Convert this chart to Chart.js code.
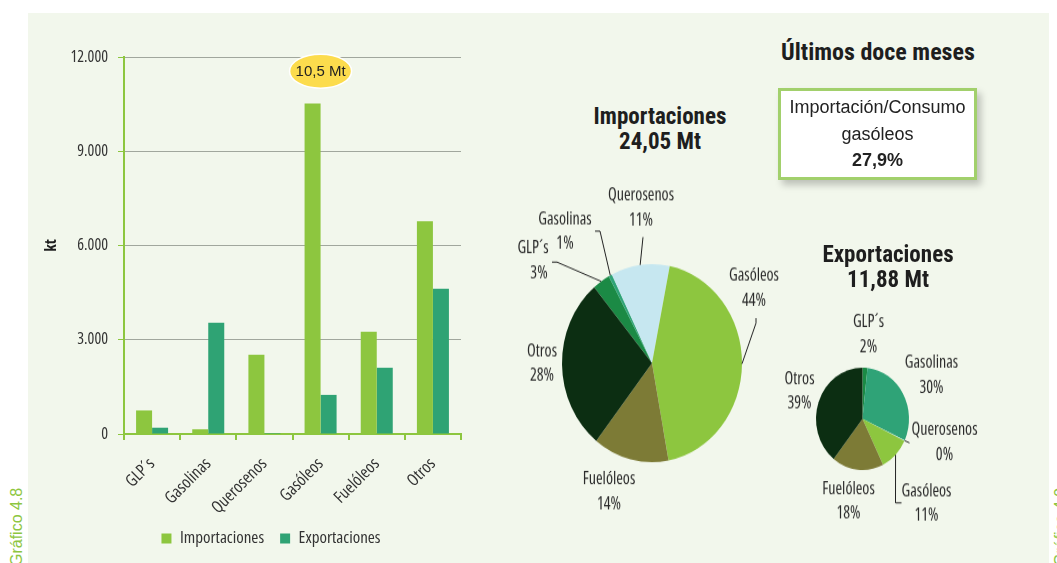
<!DOCTYPE html>
<html>
<head>
<meta charset="utf-8">
<script src="https://cdn.jsdelivr.net/npm/chart.js@4.4.1/dist/chart.umd.min.js"></script>
<style>
  body { margin: 0; width: 1057px; height: 563px; background: #fff; position: relative; overflow: hidden; font-family: 'Liberation Sans', Arial, sans-serif; color: #222; }
  #panel { position: absolute; left: 28px; top: 13px; width: 1021px; height: 550px; background: #f2f7ec; }
  canvas { position: absolute; }
  #bars { left: 28px; top: 13px; }
  #pieImp { left: 495px; top: 175px; transform: scaleY(1.1); transform-origin: 0 0; }
  #pieExp { left: 770px; top: 305px; transform: scaleY(1.1); transform-origin: 0 0; }
  .ttl { position: absolute; text-align: center; font-family: Roboto, sans-serif; font-stretch: condensed; font-weight: bold; font-size: 23px; line-height: 25px; color: #1e1e1e; }
  #box { position: absolute; left: 778px; top: 88px; width: 193px; height: 83px; border: 3px solid #a2d06c; background: #fff;
         box-shadow: 4px 5px 7px rgba(0,0,0,0.22); text-align: center; font-size: 18px; line-height: 26.7px; padding-top: 3px; color: #222; }
  .side { position: absolute; color: #8dc63f; font-size: 16px; transform: rotate(-90deg); transform-origin: 0 0; white-space: nowrap; }
</style>
</head>
<body>
<div id="panel"></div>
<div class="side" style="left:8px; top:566px;">Gráfico 4.8</div>
<div class="side" style="left:1052px; top:566px;">Gráfico 4.9</div>
<canvas id="bars" width="486" height="550"></canvas>
<canvas id="pieImp" width="300" height="315"></canvas>
<canvas id="pieExp" width="280" height="200"></canvas>
<div class="ttl" style="left:758px; top:39px; width:240px; font-size:24px; line-height:26px;">Últimos doce meses</div>
<div class="ttl" style="left:560px; top:104px; width:200px;">Importaciones<br>24,05 Mt</div>
<div class="ttl" style="left:788px; top:242px; width:200px;">Exportaciones<br>11,88 Mt</div>
<div id="box">Importación/Consumo<br>gasóleos<br><b>27,9%</b></div>
<script>
// datos (kt), últimos doce meses
const categorias = ['GLP´s', 'Gasolinas', 'Querosenos', 'Gasóleos', 'Fuelóleos', 'Otros'];
const importaciones = [750, 150, 2520, 10520, 3255, 6770];
const exportaciones = [200, 3540, 30, 1245, 2106, 4620];
const yTicks = [0, 3000, 6000, 9000, 12000];
const coloresPie = ['#1b8a45', '#2fa377', '#c6e7f0', '#8dc63f', '#7d7b36', '#0c2e12'];

const COND = "'Open Sans', sans-serif";   // drawn with font-stretch condensed
const SY = 1.1; // the pies are drawn slightly taller than wide

const miles = v => String(v).replace(/\B(?=(\d{3})+(?!\d))/g, '.');

// yellow bubble over the Gasóleos bar
const burbuja = {
  id: 'burbuja',
  afterDatasetsDraw(chart) {
    const i = importaciones.indexOf(Math.max(...importaciones));
    const x = chart.scales.x.getPixelForValue(i);
    const y = chart.scales.y.getPixelForValue(11550);
    const ctx = chart.ctx;
    ctx.save();
    ctx.beginPath();
    ctx.ellipse(x, y, 31, 17, 0, 0, Math.PI * 2);
    ctx.fillStyle = '#fcdc4d';
    ctx.fill();
    ctx.strokeStyle = '#ffffff';
    ctx.lineWidth = 1.5;
    ctx.stroke();
    ctx.fillStyle = '#222';
    ctx.font = "15px 'Liberation Sans', Arial, sans-serif";
    ctx.textAlign = 'center';
    ctx.textBaseline = 'middle';
    ctx.fillText((importaciones[i] / 1000).toFixed(1).replace('.', ',') + ' Mt', x, y + 1);
    ctx.restore();
  }
};

new Chart(document.getElementById('bars'), {
  type: 'bar',
  data: {
    labels: categorias,
    datasets: [
      { label: 'Importaciones', data: importaciones, backgroundColor: '#8dc63f' },
      { label: 'Exportaciones', data: exportaciones, backgroundColor: '#2fa374' }
    ]
  },
  options: {
    responsive: false,
    animation: false,
    categoryPercentage: 0.57,
    barPercentage: 1,
    layout: { padding: { left: 0, right: 0, top: 44, bottom: 6 } },
    plugins: {
      legend: {
        position: 'bottom',
        maxHeight: 44,
        labels: { boxWidth: 10, boxHeight: 10, padding: 16, color: '#333', font: { family: COND, size: 17, weight: 'normal condensed' } }
      },
      tooltip: { enabled: false }
    },
    scales: {
      x: {
        grid: { drawOnChartArea: false, color: '#8dc63f', tickLength: 6, lineWidth: 2 },
        border: { color: '#8dc63f', width: 2 },
        ticks: { minRotation: 45, maxRotation: 45, color: '#333', padding: 14, font: { family: COND, size: 17, weight: 'normal condensed' } },
        afterFit(s) { s.height = 80; }
      },
      y: {
        min: 0, max: 12000,
        afterBuildTicks(s) { s.ticks = yTicks.map(v => ({ value: v })); },
        ticks: { color: '#333', padding: 10, font: { family: COND, size: 16, weight: 'normal condensed' }, callback: v => miles(v) },
        grid: { color: '#a1a79d', tickColor: '#8dc63f', tickLength: 6 },
        border: { color: '#8dc63f', width: 2 },
        title: { display: true, text: 'kt', color: '#1e1e1e', font: { family: COND, size: 16, weight: 'bold condensed' }, padding: { top: 14 } },
        afterFit(s) { s.width = 96; }
      },
      // empty right-hand axis: keeps the plot narrow while the legend stays centred on the canvas
      y2: {
        position: 'right',
        grid: { display: false },
        border: { display: false },
        ticks: { display: false },
        afterFit(s) { s.width = 53; }
      }
    }
  },
  plugins: [burbuja]
});

// labels around a pie; offsets in page px from the pie centre
function etiquetas(place) {
  return {
    id: 'etiquetas',
    afterDatasetsDraw(chart) {
      const ctx = chart.ctx;
      const vals = chart.data.datasets[0].data;
      const total = vals.reduce((a, b) => a + b, 0);
      ctx.save();
      ctx.font = "condensed 16px " + COND;
      ctx.fontStretch = 'condensed';
      ctx.fillStyle = '#2b2b2b';
      ctx.strokeStyle = '#222';
      ctx.lineWidth = 1;
      ctx.textAlign = 'center';
      ctx.textBaseline = 'middle';
      chart.getDatasetMeta(0).data.forEach((arc, i) => {
        const p = place[i];
        const cx = arc.x, cy = arc.y;
        const lx = cx + p.dx, ly = cy + p.dy / SY;
        ctx.fillText(chart.data.labels[i], lx, ly);
        ctx.fillText(Math.round(vals[i] / total * 100) + '%', lx + (p.pdx || 0), ly + 25 / SY);
        if (p.lead) {
          const mid = (arc.startAngle + arc.endAngle) / 2;
          ctx.beginPath();
          ctx.moveTo(cx + Math.cos(mid) * arc.outerRadius, cy + Math.sin(mid) * arc.outerRadius);
          p.lead.forEach(pt => ctx.lineTo(cx + pt[0], cy + pt[1] / SY));
          ctx.stroke();
        }
      });
      ctx.restore();
    }
  };
}

new Chart(document.getElementById('pieImp'), {
  type: 'pie',
  data: { labels: categorias, datasets: [{ data: importaciones, backgroundColor: coloresPie, borderWidth: 0 }] },
  options: {
    responsive: false, animation: false, rotation: -40,
    layout: { padding: { left: 67, right: 53, top: 81, bottom: 54 } },
    plugins: { legend: { display: false }, tooltip: { enabled: false } }
  },
  plugins: [etiquetas([
    { dx: -119, dy: -115, pdx: 6, lead: [[-95, -101], [-100, -101]] },
    { dx: -87, dy: -144, lead: [[-52, -132], [-57, -132]] },
    { dx: -11, dy: -168, lead: [[-9, -126]] },
    { dx: 102, dy: -87, lead: [[104, -40], [104, -45]] },
    { dx: -43, dy: 116 },
    { dx: -110, dy: -12 }
  ])]
});

new Chart(document.getElementById('pieExp'), {
  type: 'pie',
  data: { labels: categorias, datasets: [{ data: exportaciones, backgroundColor: coloresPie, borderWidth: 0 }] },
  options: {
    responsive: false, animation: false, rotation: 0,
    layout: { padding: { left: 46, right: 141, top: 57, bottom: 50 } },
    plugins: { legend: { display: false }, tooltip: { enabled: false } }
  },
  plugins: [etiquetas([
    { dx: 6, dy: -97 },
    { dx: 69, dy: -56 },
    { dx: 82, dy: 11, lead: [[47, 24]] },
    { dx: 64, dy: 72, lead: [[33, 84], [39, 84]] },
    { dx: -14, dy: 70 },
    { dx: -63, dy: -40 }
  ])]
});
</script>
</body>
</html>
